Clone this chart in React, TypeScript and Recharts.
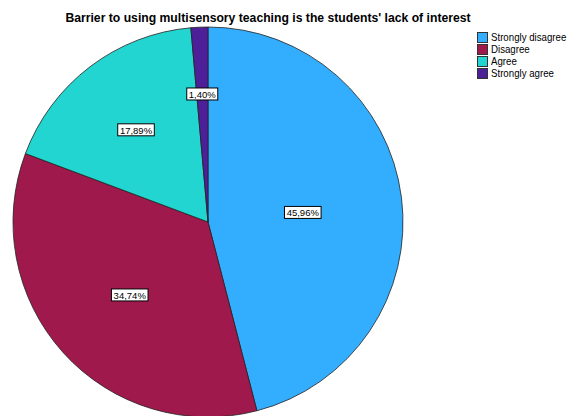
import { Legend, Pie, PieChart, Cell } from "recharts";

const categories = ["Strongly disagree", "Disagree", "Agree", "Strongly agree"];
const percents = [45.96, 34.74, 17.89, 1.4];
const colors = ["#33aefe", "#a0194c", "#23d5d1", "#4d1f99"];
// label distance from center, fraction of the radius (SPSS places them unevenly)
const labelRadius = [0.49, 0.54, 0.61, 0.67];

const data = categories.map((name, i) => ({ name, value: percents[i] }));

const RADIAN = Math.PI / 180;
const FONT = "'Liberation Sans', Arial, sans-serif";

function renderLabel(props: any) {
  const { cx, cy, midAngle, outerRadius, index, value } = props;
  const r = outerRadius * labelRadius[index];
  const x = cx + r * Math.cos(-midAngle * RADIAN);
  const y = cy + r * Math.sin(-midAngle * RADIAN) + 3;
  const text = value.toFixed(2).replace(".", ",") + "%";
  const w = text.length * 5.6 + 3;
  return (
    <g>
      <rect x={x - w / 2} y={y - 6.5} width={w} height={12} fill="#fff" stroke="#000" strokeWidth={1} />
      <text x={x} y={y + 3.5} textAnchor="middle" fontSize={9.5} fontFamily={FONT} fill="#000">
        {text}
      </text>
    </g>
  );
}

function LegendBox() {
  return (
    <div style={{ fontFamily: FONT, fontSize: 11, lineHeight: "12px", color: "#000" }}>
      {categories.map((c, i) => (
        <div key={c} style={{ display: "flex", alignItems: "center", height: 12 }}>
          <span
            style={{
              display: "inline-block",
              width: 9,
              height: 9,
              background: colors[i],
              border: "1px solid #333",
              marginRight: 3,
            }}
          />
          <span style={{ transform: "scaleX(0.88)", transformOrigin: "left", whiteSpace: "nowrap" }}>{c}</span>
        </div>
      ))}
    </div>
  );
}

export default function App() {
  return (
    <div style={{ position: "absolute", left: 0, top: 0, width: 575, height: 416, background: "#fff", overflow: "hidden" }}>
      <div
        style={{
          position: "absolute",
          top: 11,
          left: 0,
          width: 536,
          textAlign: "center",
          fontFamily: FONT,
          fontWeight: "bold",
          fontSize: 12.2,
          color: "#000",
          zIndex: 2,
        }}
      >
        Barrier to using multisensory teaching is the students' lack of interest
      </div>
      <PieChart width={575} height={416} margin={{ top: 0, right: 0, bottom: 0, left: 0 }}>
        <Pie
          data={data}
          dataKey="value"
          nameKey="name"
          cx={208}
          cy={222}
          outerRadius={195}
          startAngle={90}
          endAngle={-270}
          stroke="#222"
          strokeWidth={0.8}
          label={renderLabel}
          labelLine={false}
          isAnimationActive={false}
        >
          {data.map((d, i) => (
            <Cell key={d.name} fill={colors[i]} />
          ))}
        </Pie>
        <Legend
          layout="vertical"
          align="right"
          verticalAlign="top"
          content={() => <LegendBox />}
          wrapperStyle={{ position: "absolute", left: 477, top: 31, width: 100 }}
        />
      </PieChart>
    </div>
  );
}
